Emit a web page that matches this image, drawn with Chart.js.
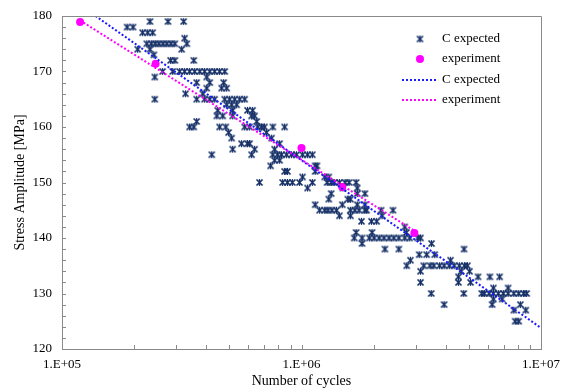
<!DOCTYPE html>
<html><head><meta charset="utf-8">
<script src="https://cdn.jsdelivr.net/npm/chart.js@4/dist/chart.umd.min.js"></script>
<style>html,body{margin:0;padding:0;background:#fff;}canvas{display:block;}</style>
</head><body>
<canvas id="c" width="569" height="390"></canvas>
<script>
// ---- data ----
const seriesNames = ['C expected', 'experiment'];

const cExpectedN = [
  2.33e5, 2.77e5, 3.22e5,
  1.87e5, 1.98e5,
  2.17e5, 2.28e5, 2.39e5,
  3.25e5,
  2.26e5, 2.36e5, 2.45e5, 2.54e5, 2.64e5, 2.74e5, 2.85e5, 2.96e5, 3.32e5,
  2.07e5, 2.33e5, 3.16e5,
  2.42e5,
  2.84e5, 2.96e5, 3.55e5,
  2.63e5, 2.90e5, 3.10e5, 3.25e5, 3.41e5, 3.58e5, 3.76e5, 3.94e5, 4.14e5, 4.34e5, 4.55e5, 4.78e5,
  2.44e5, 4.02e5,
  3.65e5, 4.14e5, 4.73e5,
  4.02e5, 4.64e5, 4.87e5,
  3.28e5, 3.87e5,
  2.44e5, 3.65e5, 3.94e5, 4.14e5, 4.34e5, 4.78e5, 5.01e5, 5.26e5, 5.52e5, 5.79e5,
  4.87e5, 5.11e5, 5.36e5,
  4.47e5, 5.16e5, 5.95e5, 6.25e5,
  4.43e5, 4.69e5, 5.16e5, 6.19e5, 6.37e5,
  3.65e5, 6.50e5,
  3.41e5, 3.55e5, 4.55e5, 4.83e5, 5.79e5, 6.07e5, 6.56e5, 6.81e5, 7.01e5, 7.59e5, 8.50e5,
  4.96e5, 7.14e5,
  5.11e5, 7.50e5,
  5.62e5, 5.95e5, 6.07e5, 8.10e5,
  5.16e5, 6.37e5, 7.72e5,
  4.22e5, 6.19e5, 7.59e5, 7.94e5, 8.25e5, 8.66e5, 9.08e5, 9.53e5, 1.01e6, 1.06e6, 1.11e6,
  7.72e5, 8.10e5,
  7.43e5, 1.14e6, 1.16e6,
  8.50e5, 8.74e5, 1.14e6,
  1.01e6, 1.25e6, 1.30e6,
  6.68e5, 8.34e5, 8.74e5, 9.16e5, 9.81e5, 1.11e6, 1.28e6, 1.33e6, 1.37e6, 1.44e6, 1.52e6, 1.58e6, 1.69e6,
  1.06e6, 1.49e6, 1.71e6,
  1.33e6, 1.71e6, 1.84e6,
  1.30e6, 1.56e6, 1.60e6,
  1.14e6, 1.48e6, 1.71e6, 1.84e6,
  1.19e6, 1.25e6, 1.29e6, 1.34e6, 1.40e6, 1.60e6, 1.67e6, 1.74e6, 1.84e6, 1.87e6, 2.15e6, 2.41e6,
  1.44e6, 1.60e6, 2.17e6,
  1.78e6, 1.96e6, 2.06e6,
  2.70e6,
  1.69e6, 1.97e6, 2.74e6,
  1.66e6, 1.79e6, 1.92e6, 2.01e6, 2.11e6, 2.21e6, 2.32e6, 2.43e6, 2.55e6, 2.70e6, 2.83e6, 3.06e6, 3.14e6,
  1.79e6, 3.49e6,
  2.23e6, 2.55e6, 4.77e6,
  3.10e6, 3.33e6, 3.60e6,
  2.85e6, 4.19e6,
  2.75e6, 3.24e6, 3.44e6, 3.57e6, 3.77e6, 3.94e6, 4.14e6, 4.34e6, 4.56e6, 4.79e6, 4.93e6,
  3.14e6, 4.64e6, 5.03e6,
  4.52e6, 5.46e6, 6.12e6, 6.72e6,
  3.14e6, 4.52e6, 5.08e6,
  6.33e6, 7.29e6,
  3.48e6, 4.76e6, 5.66e6, 5.80e6, 6.07e6, 6.33e6, 6.63e6, 6.96e6, 7.29e6, 7.70e6, 8.07e6, 8.46e6, 8.71e6,
  6.33e6, 6.88e6,
  3.94e6, 6.25e6, 8.20e6,
  7.70e6, 8.64e6,
  7.80e6, 8.07e6
];
const cExpectedS = [
  179, 179, 179,
  178, 178,
  177, 177, 177,
  176,
  175, 175, 175, 175, 175, 175, 175, 175, 175,
  174, 174, 174,
  173,
  172, 172, 172,
  170, 170, 170, 170, 170, 170, 170, 170, 170, 170, 170, 170,
  169, 169,
  168, 168, 168,
  167, 167, 167,
  166, 166,
  165, 165, 165, 165, 165, 165, 165, 165, 165, 165,
  164, 164, 164,
  163, 163, 163, 163,
  162, 162, 162, 162, 162,
  161, 161,
  160, 160, 160, 160, 160, 160, 160, 160, 160, 160, 160,
  159, 159,
  158, 158,
  157, 157, 157, 157,
  156, 156, 156,
  155, 155, 155, 155, 155, 155, 155, 155, 155, 155, 155,
  154, 154,
  153, 153, 153,
  152, 152, 152,
  151, 151, 151,
  150, 150, 150, 150, 150, 150, 150, 150, 150, 150, 150, 150, 150,
  149, 149, 149,
  148, 148, 148,
  147, 147, 147,
  146, 146, 146, 146,
  145, 145, 145, 145, 145, 145, 145, 145, 145, 145, 145, 145,
  144, 144, 144,
  143, 143, 143,
  142,
  141, 141, 141,
  140, 140, 140, 140, 140, 140, 140, 140, 140, 140, 140, 140, 140,
  139, 139,
  138, 138, 138,
  137, 137, 137,
  136, 136,
  135, 135, 135, 135, 135, 135, 135, 135, 135, 135, 135,
  134, 134, 134,
  133, 133, 133, 133,
  132, 132, 132,
  131, 131,
  130, 130, 130, 130, 130, 130, 130, 130, 130, 130, 130, 130, 130,
  129, 129,
  128, 128, 128,
  127, 127,
  125, 125
];

const experimentN = [1.19e5, 2.46e5, 1.00e6, 1.48e6, 2.96e6];
const experimentS = [178.9, 171.4, 156.2, 149.2, 140.9];

// trend lines (end points)
const trendCN = [1.38e5, 1.0e7];
const trendCS = [180.0, 123.8];
const trendExpN = [1.19e5, 2.96e6];
const trendExpS = [179.2, 141.3];

const xTickValues = [1e5, 1e6, 1e7];
const yMin = 120, yMax = 180, yStep = 10, yMinorStep = 2;

// ---- styles ----
const NAVY = '#142f66';
const MAG = '#ff00ff';
const BLUE = '#1a1aff';
const AXIS = '#8a8a8a';
const FONT = "'Liberation Serif', 'Times New Roman', serif";

function makeStar(color) {
  const c = document.createElement('canvas');
  c.width = 9; c.height = 9;
  const g = c.getContext('2d');
  g.strokeStyle = color; g.lineCap = 'butt';
  g.lineWidth = 1.7;
  g.beginPath();
  g.moveTo(1.5, 1.5); g.lineTo(7.5, 7.5);
  g.moveTo(7.5, 1.5); g.lineTo(1.5, 7.5);
  g.stroke();
  g.lineWidth = 1.2;
  g.beginPath();
  g.moveTo(4.5, 1); g.lineTo(4.5, 8);
  g.stroke();
  return c;
}
const star = makeStar(NAVY);

const zip = (a, b) => a.map((v, i) => ({ x: v, y: b[i] }));

const decorPlugin = {
  id: 'decor',
  afterDatasetsDraw(chart) {
    const { ctx, chartArea: a, scales } = chart;
    const xs = scales.x, ys = scales.y;
    ctx.save();
    ctx.strokeStyle = AXIS; ctx.lineWidth = 1;
    ctx.beginPath();
    ctx.moveTo(a.left, a.top + 0.5); ctx.lineTo(a.right + 0.5, a.top + 0.5);
    ctx.lineTo(a.right + 0.5, a.bottom);
    ctx.stroke();
    ctx.beginPath();
    for (let v = yMin; v <= yMax; v += yMinorStep) {
      const y = Math.round(ys.getPixelForValue(v)) + 0.5;
      ctx.moveTo(a.left, y); ctx.lineTo(a.left + 4, y);
    }
    for (let d = 1e5; d < 1e7; d *= 10) {
      for (let m = 1; m <= 10; m++) {
        const x = Math.round(xs.getPixelForValue(d * m)) + 0.5;
        ctx.moveTo(x, a.bottom); ctx.lineTo(x, a.bottom - 4);
      }
    }
    ctx.stroke();
    ctx.restore();
  },
  afterDraw(chart) {
    const { ctx, chartArea: a } = chart;
    const ds = chart.data.datasets;
    ctx.save();
    ctx.font = '13px ' + FONT;
    ctx.fillStyle = '#000';
    ctx.textBaseline = 'middle';
    const symX = a.left + 358, txtX = a.left + 380;
    const rows = [39, 59, 80, 100];
    ctx.drawImage(star, symX - 4.5, rows[0] - 4.5);
    ctx.fillText(ds[0].label, txtX, rows[0]);
    ctx.fillStyle = MAG;
    ctx.beginPath(); ctx.arc(symX, rows[1], 4, 0, Math.PI * 2); ctx.fill();
    ctx.fillStyle = '#000';
    ctx.fillText(ds[1].label, txtX, rows[1]);
    [[ds[2], rows[2]], [ds[3], rows[3]]].forEach(([d, y]) => {
      ctx.strokeStyle = d.borderColor; ctx.lineWidth = d.borderWidth;
      ctx.setLineDash(d.borderDash);
      ctx.beginPath(); ctx.moveTo(a.left + 340, y); ctx.lineTo(a.left + 374, y); ctx.stroke();
      ctx.setLineDash([]);
      ctx.fillText(d.label, txtX, y);
    });
    ctx.restore();
  }
};

new Chart(document.getElementById('c'), {
  type: 'scatter',
  data: {
    datasets: [
      { label: seriesNames[0], data: zip(cExpectedN, cExpectedS), pointStyle: star, order: 4 },
      { label: seriesNames[1], data: zip(experimentN, experimentS), pointStyle: 'circle', pointRadius: 4,
        backgroundColor: MAG, borderWidth: 0, order: 3 },
      { label: seriesNames[0], data: zip(trendCN, trendCS), showLine: true, pointRadius: 0,
        borderColor: BLUE, borderWidth: 2, borderDash: [2, 2], order: 2 },
      { label: seriesNames[1], data: zip(trendExpN, trendExpS), showLine: true, pointRadius: 0,
        borderColor: MAG, borderWidth: 2, borderDash: [2, 2], order: 1 }
    ]
  },
  options: {
    responsive: false,
    animation: false,
    devicePixelRatio: 1,
    events: [],
    layout: { padding: { top: 16, right: 28, left: 0, bottom: 0 } },
    plugins: { legend: { display: false }, tooltip: { enabled: false } },
    scales: {
      x: {
        type: 'logarithmic', min: 1e5, max: 1e7,
        afterBuildTicks: s => { s.ticks = xTickValues.map(v => ({ value: v })); },
        afterFit: s => { s.height = 41; s.paddingLeft = 0; s.paddingRight = 0; },
        ticks: { callback: v => '1.E+' + String(Math.round(Math.log10(v))).padStart(2, '0'),
                 color: '#000', font: { family: FONT, size: 13 }, padding: 8, maxRotation: 0, autoSkip: false },
        grid: { drawOnChartArea: false, drawTicks: false },
        border: { color: AXIS, width: 1 },
        title: { display: true, text: 'Number of cycles', color: '#000',
                 font: { family: FONT, size: 14 }, padding: { top: 0, bottom: 0 } }
      },
      y: {
        min: yMin, max: yMax,
        ticks: { stepSize: yStep, color: '#000', font: { family: FONT, size: 13 }, padding: 10 },
        afterFit: s => { s.width = 62; s.paddingTop = 0; s.paddingBottom = 0; },
        grid: { drawOnChartArea: false, drawTicks: false },
        border: { color: AXIS, width: 1 },
        title: { display: true, text: 'Stress Amplitude [MPa]', color: '#000',
                 font: { family: FONT, size: 14 }, padding: { top: 12, bottom: 0 } }
      }
    }
  },
  plugins: [decorPlugin]
});
</script>
</body></html>
